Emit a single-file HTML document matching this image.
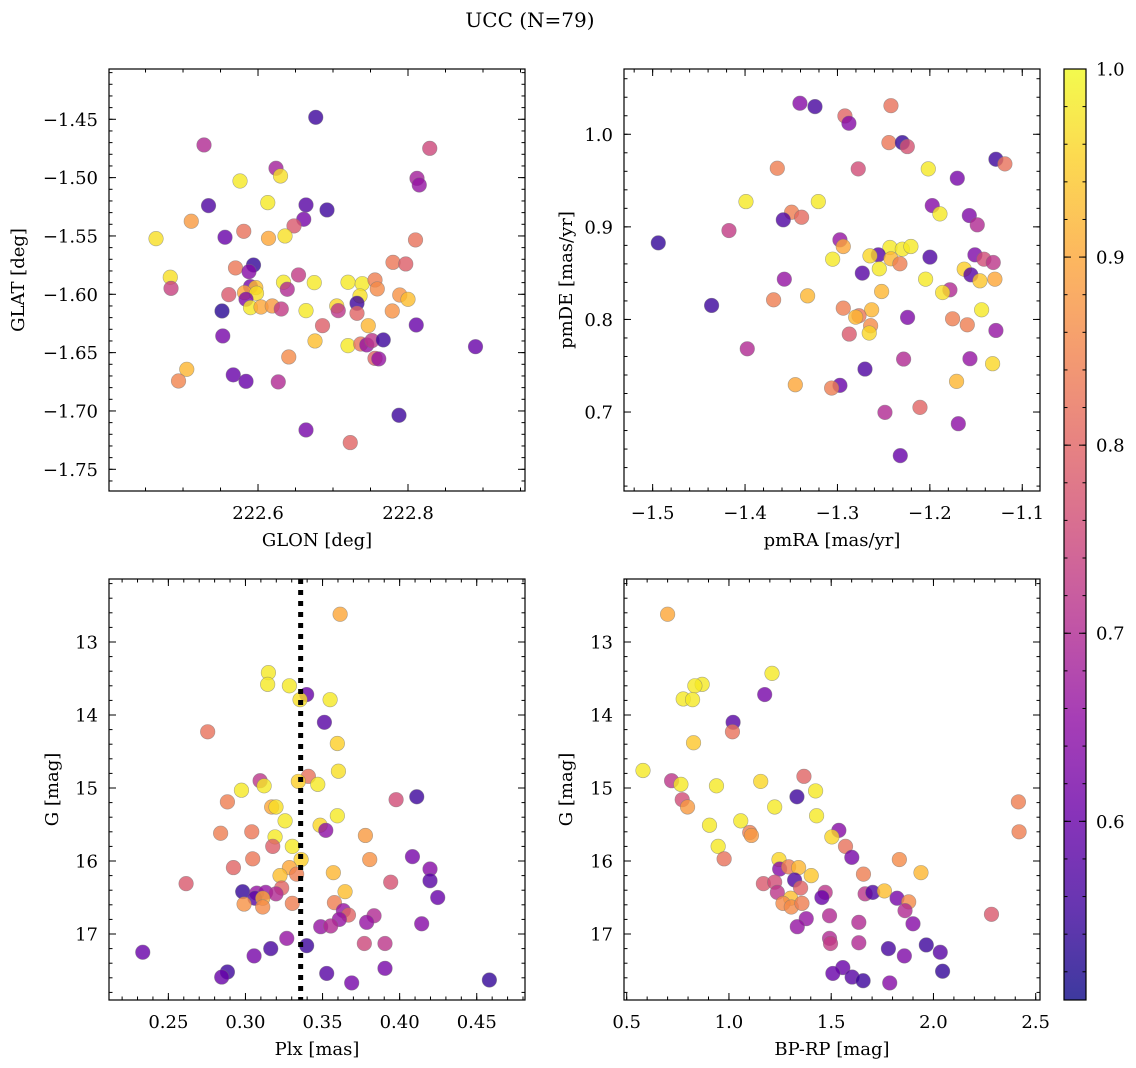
<!DOCTYPE html>
<html><head><meta charset="utf-8">
<style>
html,body{margin:0;padding:0;background:#fff;}
svg{display:block;font-family:"DejaVu Serif","Liberation Serif",serif;}
</style></head>
<body>
<svg id="fig" width="1136" height="1068" viewBox="0 0 1136 1068" xmlns="http://www.w3.org/2000/svg">
<text x="530" y="27" font-size="20" text-anchor="middle">UCC (N=79)</text>
</svg>
<script>
// ---- data: panel 1 (GLON vs GLAT)
const glon = [222.677,222.528,222.829,222.624,222.630,222.576,222.812,222.815,222.534,222.613,222.664,222.692,222.511,222.661,222.648,222.581,222.556,222.614,222.636,222.464,222.810,222.594,222.570,222.588,222.780,222.797,222.654,222.483,222.484,222.634,222.639,222.675,222.720,222.739,222.756,222.759,222.590,222.597,222.582,222.598,222.561,222.584,222.789,222.800,222.736,222.732,222.552,222.590,222.604,222.619,222.631,222.664,222.705,222.707,222.732,222.779,222.686,222.747,222.811,222.553,222.676,222.720,222.737,222.745,222.752,222.767,222.890,222.641,222.756,222.761,222.505,222.494,222.567,222.584,222.627,222.788,222.664,222.723];
const glat = [-1.4483,-1.472,-1.4749,-1.492,-1.4986,-1.5029,-1.5006,-1.5063,-1.524,-1.5214,-1.5234,-1.5277,-1.5374,-1.5357,-1.5414,-1.546,-1.5511,-1.552,-1.55,-1.5523,-1.5534,-1.5749,-1.5774,-1.5806,-1.5726,-1.574,-1.5834,-1.5854,-1.5949,-1.5897,-1.5957,-1.59,-1.5897,-1.5909,-1.5877,-1.5954,-1.5934,-1.5943,-1.5986,-1.5991,-1.6003,-1.6043,-1.6006,-1.6043,-1.6014,-1.6077,-1.6143,-1.6114,-1.6109,-1.61,-1.6126,-1.614,-1.61,-1.614,-1.6163,-1.6143,-1.6269,-1.6269,-1.6263,-1.6357,-1.64,-1.644,-1.6426,-1.6434,-1.6397,-1.6391,-1.6449,-1.6537,-1.6549,-1.6554,-1.6643,-1.6743,-1.6691,-1.6746,-1.6751,-1.7037,-1.7163,-1.7271];
const probA = [0.55,0.7,0.75,0.68,0.97,0.98,0.68,0.66,0.57,0.98,0.58,0.55,0.88,0.62,0.78,0.82,0.6,0.9,0.97,0.97,0.82,0.54,0.83,0.64,0.83,0.79,0.73,0.97,0.74,0.98,0.7,0.98,0.98,0.98,0.84,0.86,0.62,0.93,0.9,0.97,0.78,0.63,0.87,0.93,0.97,0.55,0.53,0.98,0.9,0.88,0.73,0.98,0.96,0.72,0.8,0.87,0.79,0.92,0.6,0.62,0.93,0.98,0.82,0.66,0.72,0.55,0.6,0.86,0.8,0.66,0.92,0.85,0.6,0.6,0.7,0.55,0.62,0.8];
// ---- data: panel 2 (pmRA vs pmDE)
const pmra = [-1.3406,-1.3243,-1.2421,-1.2919,-1.2876,-1.2443,-1.2298,-1.2244,-1.1285,-1.1188,-1.3651,-1.2775,-1.2017,-1.1703,-1.399,-1.3207,-1.1974,-1.1891,-1.1573,-1.3496,-1.3388,-1.3586,-1.1487,-1.4174,-1.4939,-1.2973,-1.2937,-1.2432,-1.2298,-1.2205,-1.2558,-1.2648,-1.2421,-1.2324,-1.3052,-1.1999,-1.1512,-1.1415,-1.1314,-1.2547,-1.2731,-1.1628,-1.1556,-1.1458,-1.1296,-1.2046,-1.3575,-1.1783,-1.1862,-1.2522,-1.3323,-1.3691,-1.4362,-1.2937,-1.263,-1.2767,-1.2803,-1.2241,-1.144,-1.1754,-1.1595,-1.2641,-1.2656,-1.2872,-1.1285,-1.3976,-1.2284,-1.1566,-1.1321,-1.2702,-1.1711,-1.3456,-1.2973,-1.3063,-1.2107,-1.2486,-1.1692,-1.232];
const pmde = [1.0335,1.0299,1.0309,1.0198,1.0119,0.991,0.991,0.9867,0.973,0.968,0.9633,0.9626,0.9626,0.9525,0.9273,0.9273,0.923,0.914,0.9122,0.9158,0.9104,0.9076,0.9022,0.896,0.8827,0.886,0.8788,0.8777,0.8759,0.8788,0.8698,0.8687,0.8655,0.8601,0.8651,0.8673,0.8698,0.8651,0.8615,0.8547,0.85,0.8543,0.8482,0.8417,0.8435,0.8435,0.8435,0.832,0.8291,0.8302,0.8255,0.8212,0.8151,0.8122,0.8104,0.804,0.8025,0.8022,0.8104,0.8007,0.7942,0.7932,0.7853,0.7842,0.7881,0.7683,0.7572,0.7576,0.7522,0.7464,0.7331,0.7295,0.7288,0.7259,0.705,0.6996,0.6874,0.6529];
const probB = [0.64,0.56,0.82,0.8,0.64,0.83,0.54,0.77,0.55,0.82,0.84,0.76,0.98,0.62,0.98,0.98,0.64,0.98,0.63,0.84,0.81,0.57,0.7,0.73,0.54,0.66,0.9,0.98,0.98,0.98,0.58,0.96,0.92,0.84,0.98,0.57,0.63,0.76,0.72,0.98,0.58,0.95,0.58,0.94,0.9,0.98,0.66,0.7,0.97,0.92,0.92,0.84,0.55,0.84,0.92,0.83,0.92,0.63,0.98,0.84,0.84,0.86,0.96,0.78,0.66,0.7,0.7,0.66,0.96,0.57,0.92,0.9,0.6,0.84,0.8,0.7,0.65,0.6];
// ---- data: panel 3 (Plx vs G)
const plx = [0.3614,0.3149,0.3144,0.3285,0.3397,0.3354,0.3549,0.3512,0.2755,0.3596,0.3603,0.3408,0.3095,0.3343,0.3469,0.3121,0.2974,0.3977,0.4111,0.2883,0.3170,0.3198,0.3596,0.3257,0.3484,0.3521,0.2839,0.3041,0.3778,0.3192,0.3177,0.3304,0.3361,0.3047,0.3806,0.4083,0.2922,0.4197,0.3285,0.3332,0.3224,0.3570,0.2615,0.3942,0.4197,0.3235,0.3646,0.2982,0.3073,0.3131,0.3198,0.3062,0.3112,0.4247,0.2991,0.3112,0.3304,0.3577,0.3635,0.3668,0.3609,0.3834,0.3786,0.3488,0.3553,0.4143,0.3268,0.3771,0.3905,0.3164,0.3397,0.2334,0.3056,0.3905,0.2883,0.2846,0.3527,0.3689,0.4582];
const gmagA = [12.62,13.42,13.58,13.60,13.72,13.79,13.79,14.10,14.23,14.39,14.77,14.84,14.90,14.91,14.95,14.97,15.03,15.16,15.12,15.19,15.26,15.26,15.38,15.45,15.51,15.58,15.62,15.60,15.65,15.67,15.80,15.80,15.98,15.97,15.98,15.94,16.09,16.11,16.09,16.18,16.20,16.16,16.31,16.29,16.27,16.37,16.42,16.42,16.44,16.43,16.45,16.51,16.51,16.50,16.59,16.63,16.58,16.57,16.68,16.74,16.80,16.75,16.84,16.90,16.89,16.86,17.06,17.13,17.13,17.20,17.16,17.25,17.30,17.47,17.52,17.59,17.54,17.67,17.63];
const probC = [0.9,0.98,0.98,0.98,0.6,0.97,0.98,0.58,0.82,0.95,0.97,0.82,0.72,0.95,0.98,0.98,0.98,0.76,0.55,0.84,0.9,0.97,0.98,0.98,0.96,0.65,0.84,0.83,0.88,0.98,0.79,0.98,0.95,0.83,0.87,0.62,0.8,0.64,0.9,0.84,0.93,0.92,0.78,0.77,0.58,0.8,0.93,0.54,0.66,0.66,0.7,0.58,0.9,0.6,0.87,0.86,0.84,0.84,0.66,0.8,0.66,0.7,0.66,0.66,0.7,0.64,0.66,0.75,0.72,0.56,0.55,0.6,0.62,0.62,0.55,0.6,0.58,0.62,0.54];
const plxRef = [0.3358];
// ---- data: panel 4 (BP-RP vs G)
const bprp = [0.700,1.2106,0.869,0.8333,1.1748,0.7764,0.822,1.0203,1.0171,0.8268,0.5797,1.3667,0.7195,0.765,0.939,1.1553,1.4236,2.4154,0.7715,1.3325,0.7976,1.2236,1.4285,0.9049,1.0577,2.4187,1.1016,1.1098,1.5374,1.5033,0.9472,1.5699,0.9764,1.6008,1.2447,1.8333,1.939,1.248,1.2919,1.3407,1.4024,1.6577,1.3211,1.1683,1.2236,1.3504,1.2366,1.4707,1.4545,1.6659,1.7033,1.7602,1.822,1.8789,1.3016,1.2642,1.3049,1.3569,1.861,2.2837,1.4919,1.378,1.3341,1.635,1.9,1.4919,1.4967,1.635,1.7797,1.965,2.0333,1.8577,2.0447,1.5569,1.5081,1.6024,1.6561,1.7862];
const gmagB = [12.62,13.43,13.58,13.60,13.72,13.78,13.79,14.10,14.23,14.38,14.76,14.84,14.90,14.95,14.97,14.91,15.04,15.19,15.16,15.12,15.26,15.26,15.38,15.51,15.45,15.60,15.61,15.65,15.58,15.67,15.80,15.80,15.97,15.95,15.98,15.98,16.16,16.11,16.08,16.09,16.20,16.18,16.26,16.31,16.29,16.37,16.43,16.43,16.50,16.45,16.43,16.41,16.51,16.56,16.51,16.58,16.63,16.58,16.68,16.73,16.75,16.79,16.90,16.84,16.86,17.06,17.13,17.12,17.20,17.15,17.25,17.30,17.51,17.46,17.54,17.59,17.64,17.67];
const probD = [0.9,0.98,0.98,0.98,0.62,0.98,0.98,0.58,0.82,0.94,0.98,0.8,0.72,0.98,0.98,0.96,0.98,0.84,0.76,0.55,0.88,0.98,0.98,0.98,0.98,0.84,0.84,0.88,0.64,0.96,0.98,0.82,0.82,0.62,0.96,0.86,0.92,0.64,0.84,0.92,0.94,0.84,0.57,0.78,0.76,0.8,0.72,0.72,0.6,0.72,0.57,0.93,0.62,0.86,0.93,0.86,0.86,0.84,0.7,0.78,0.7,0.66,0.66,0.7,0.64,0.7,0.73,0.7,0.56,0.55,0.58,0.63,0.54,0.6,0.6,0.58,0.55,0.64];
const cbTicks = [0.6,0.7,0.8,0.9,1.0];

const NS = "http://www.w3.org/2000/svg";
const svg = document.getElementById('fig');
const VMIN = 0.505, VMAX = 1.0;
const FS = 18;
const stops = [[13,8,135],[65,4,157],[106,0,168],[143,13,164],[177,42,144],[204,71,120],[225,100,98],[242,132,75],[252,166,54],[252,206,37],[240,249,33]];
function plasma(t){t=Math.max(0,Math.min(1,t));const f=t*10;const i=Math.min(9,Math.floor(f));const u=f-i;const a=stops[i],b=stops[i+1];
  return 'rgb('+a.map((v,k)=>Math.round(v+(b[k]-v)*u)).join(',')+')';}
function mk(tag, attrs, parent){const e=document.createElementNS(NS,tag);for(const k in attrs)e.setAttribute(k,attrs[k]);(parent||svg).appendChild(e);return e;}
function fmt(v,d){return v.toFixed(d).replace('-','\u2212');}

function panel(cfg){
  const g = mk('g',{});
  
  
  const sx = v => cfg.L + (v-cfg.xmin)/(cfg.xmax-cfg.xmin)*(cfg.R-cfg.L);
  const sy = v => cfg.T + (v-cfg.yTop)/(cfg.yBot-cfg.yTop)*(cfg.B-cfg.T);
  const pg = mk('g',{},g);
  
  
  for(let i=0;i<cfg.xs.length;i++){
    const c = mk('circle',{cx:sx(cfg.xs[i]),cy:sy(cfg.ys[i]),r:7.3,fill:plasma((cfg.ps[i]-VMIN)/(VMAX-VMIN)),'fill-opacity':0.8,stroke:'#777','stroke-opacity':0.6,'stroke-width':0.6},pg);
    
    
  }
  if(cfg.vline){
    const l = mk('line',{x1:sx(cfg.vline),x2:sx(cfg.vline),y1:cfg.T,y2:cfg.B,stroke:'#000','stroke-width':5,'stroke-dasharray':'5 6'},g);
    
    
  }
  const tg = mk('g',{stroke:'#000','stroke-width':1},g);
  function xt(v,len){const x=sx(v);if(x<cfg.L-0.5||x>cfg.R+0.5)return;mk('line',{x1:x,x2:x,y1:cfg.B,y2:cfg.B-len},tg);mk('line',{x1:x,x2:x,y1:cfg.T,y2:cfg.T+len},tg);}
  function yt(v,len){const y=sy(v);if(y<cfg.T-0.5||y>cfg.B+0.5)return;mk('line',{x1:cfg.L,x2:cfg.L+len,y1:y,y2:y},tg);mk('line',{x1:cfg.R,x2:cfg.R-len,y1:y,y2:y},tg);}
  const lo=Math.min(cfg.xmin,cfg.xmax), hi=Math.max(cfg.xmin,cfg.xmax);
  for(let k=Math.ceil(lo/cfg.xminor);k*cfg.xminor<=hi;k++) xt(k*cfg.xminor,3.5);
  const ylo=Math.min(cfg.yTop,cfg.yBot), yhi=Math.max(cfg.yTop,cfg.yBot);
  for(let k=Math.ceil(ylo/cfg.yminor);k*cfg.yminor<=yhi;k++) yt(k*cfg.yminor,3.5);
  cfg.xmaj.forEach(v=>{xt(v,7);const t=mk('text',{x:sx(v),y:cfg.B+28,'font-size':FS,'text-anchor':'middle'},g);t.textContent=fmt(v,cfg.xd);
    
    });
  cfg.ymaj.forEach(v=>{yt(v,7);const t=mk('text',{x:cfg.L-11,y:sy(v)+6.5,'font-size':FS,'text-anchor':'end'},g);t.textContent=fmt(v,cfg.yd);
    
    });
  const fr = mk('rect',{x:cfg.L,y:cfg.T,width:cfg.R-cfg.L,height:cfg.B-cfg.T,fill:'none',stroke:'#000','stroke-width':1.2},g);
  
  
  const xl = mk('text',{x:(cfg.L+cfg.R)/2,y:cfg.B+55,'font-size':FS,'text-anchor':'middle'},g);xl.textContent=cfg.xlabel;
  
  
  const yc=(cfg.T+cfg.B)/2;
  const yl = mk('text',{x:cfg.ylx,y:yc,'font-size':FS,'text-anchor':'middle',transform:'rotate(-90 '+cfg.ylx+' '+yc+')'},g);yl.textContent=cfg.ylabel;
  
  
}
function range(a,b,s){const r=[];for(let v=a;v<=b+1e-9;v+=s)r.push(Math.round(v*1000)/1000);return r;}

panel({name:'glon-glat-panel',L:109,R:525,T:69,B:491,xmin:222.4013,xmax:222.956,yTop:-1.4069,yBot:-1.7686,
  xs:glon,ys:glat,ps:probA,xmaj:[222.6,222.8],xd:1,xminor:0.05,ymaj:range(-1.75,-1.45,0.05).reverse(),yd:2,yminor:0.01,
  xlabel:'GLON [deg]',ylabel:'GLAT [deg]',ylx:24});
panel({name:'pm-panel',L:624,R:1040,T:69,B:491,xmin:-1.531,xmax:-1.0808,yTop:1.0705,yBot:0.6147,
  xs:pmra,ys:pmde,ps:probB,xmaj:range(-1.5,-1.1,0.1),xd:1,xminor:0.02,ymaj:range(0.7,1.0,0.1),yd:1,yminor:0.02,
  xlabel:'pmRA [mas/yr]',ylabel:'pmDE [mas/yr]',ylx:572});
panel({name:'plx-g-panel',L:109,R:525,T:579,B:1000,xmin:0.2115,xmax:0.4813,yTop:12.137,yBot:17.904,
  xs:plx,ys:gmagA,ps:probC,xmaj:range(0.25,0.45,0.05),xd:2,xminor:0.01,ymaj:[13,14,15,16,17],yd:0,yminor:0.2,
  xlabel:'Plx [mas]',ylabel:'G [mag]',ylx:58,vline:plxRef[0]});
panel({name:'cmd-panel',L:624,R:1040,T:579,B:1000,xmin:0.4868,xmax:2.521,yTop:12.137,yBot:17.904,
  xs:bprp,ys:gmagB,ps:probD,xmaj:range(0.5,2.5,0.5),xd:1,xminor:0.1,ymaj:[13,14,15,16,17],yd:0,yminor:0.2,
  xlabel:'BP-RP [mag]',ylabel:'G [mag]',ylx:572});

(function(){
  const L=1064,R=1086,T=69,B=1000;
  const cg = mk('g',{});
  
  
  const defs = mk('defs',{},cg);
  const lg = mk('linearGradient',{id:'cbg',x1:0,y1:1,x2:0,y2:0},defs);
  for(let i=0;i<=20;i++){mk('stop',{offset:i/20,'stop-color':plasma(i/20)},lg);}
  mk('rect',{x:L,y:T,width:R-L,height:B-T,fill:'url(#cbg)','fill-opacity':0.8},cg);
  const sy = v => B - (v-VMIN)/(VMAX-VMIN)*(B-T);
  for(let k=Math.ceil(VMIN/0.02);k*0.02<=VMAX+1e-9;k++){const y=sy(k*0.02);mk('line',{x1:R,x2:R-3.5,y1:y,y2:y,stroke:'#000'},cg);mk('line',{x1:L,x2:L+3.5,y1:y,y2:y,stroke:'#000'},cg);}
  cbTicks.forEach(v=>{const y=sy(v);mk('line',{x1:R,x2:R-7,y1:y,y2:y,stroke:'#000'},cg);mk('line',{x1:L,x2:L+7,y1:y,y2:y,stroke:'#000'},cg);
    const t=mk('text',{x:R+10,y:y+6.5,'font-size':FS},cg);t.textContent=v.toFixed(1);
    
    });
  mk('rect',{x:L,y:T,width:R-L,height:B-T,fill:'none',stroke:'#000','stroke-width':1.2},cg);
})();
</script>
</body></html>
